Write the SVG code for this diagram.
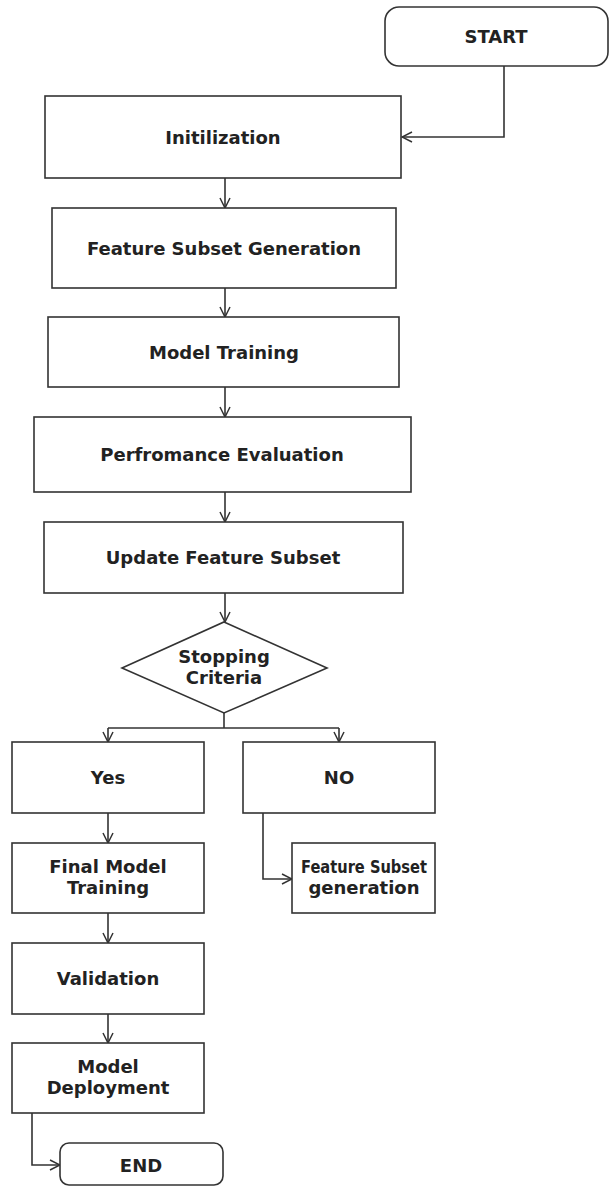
<svg xmlns="http://www.w3.org/2000/svg" width="610" height="1186" viewBox="0 0 610 1186">
<style>
.box{fill:#fff;stroke:#333;stroke-width:1.6}
.t{font-family:"DejaVu Sans","Open Sans",sans-serif;font-weight:bold;font-size:18px;fill:#222;text-anchor:middle;dominant-baseline:central}
.c{fill:none;stroke:#333;stroke-width:1.6}
</style>
<defs>
<marker id="ah" viewBox="0 0 12 12" refX="11" refY="6" markerWidth="12" markerHeight="12" markerUnits="userSpaceOnUse" orient="auto">
<path d="M1,1 L11,6 L1,11" fill="none" stroke="#333" stroke-width="1.5"/>
</marker>
</defs>
<rect width="610" height="1186" fill="#fff"/>
<g id="connectors">
<path class="c" d="M504,66 V137 H402" marker-end="url(#ah)"/>
<path class="c" d="M225,178 V208" marker-end="url(#ah)"/>
<path class="c" d="M225,288 V317" marker-end="url(#ah)"/>
<path class="c" d="M225,387 V417" marker-end="url(#ah)"/>
<path class="c" d="M225,492 V522" marker-end="url(#ah)"/>
<path class="c" d="M225,593 V622" marker-end="url(#ah)"/>
<path class="c" d="M224,713 V728"/>
<path class="c" d="M108,728 H339"/>
<path class="c" d="M108,728 V742" marker-end="url(#ah)"/>
<path class="c" d="M339,728 V742" marker-end="url(#ah)"/>
<path class="c" d="M108,813 V843" marker-end="url(#ah)"/>
<path class="c" d="M263,813 V879 H292" marker-end="url(#ah)"/>
<path class="c" d="M108,913 V943" marker-end="url(#ah)"/>
<path class="c" d="M108,1014 V1043" marker-end="url(#ah)"/>
<path class="c" d="M32,1113 V1165 H60" marker-end="url(#ah)"/>
</g>
<g id="start"><rect class="box" x="385" y="7" width="223" height="59" rx="14"/><text class="t" x="496" y="36">START</text></g>
<g id="init"><rect class="box" x="45" y="96" width="356" height="82"/><text class="t" x="223" y="137">Initilization</text></g>
<g id="fsg"><rect class="box" x="52" y="208" width="344" height="80"/><text class="t" x="224" y="248">Feature Subset Generation</text></g>
<g id="mt"><rect class="box" x="48" y="317" width="351" height="70"/><text class="t" x="224" y="352">Model Training</text></g>
<g id="pe"><rect class="box" x="34" y="417" width="377" height="75"/><text class="t" x="222" y="454">Perfromance Evaluation</text></g>
<g id="ufs"><rect class="box" x="44" y="522" width="359" height="71"/><text class="t" x="223" y="557">Update Feature Subset</text></g>
<g id="stop"><polygon class="box" points="224,622 327,668 224,713 122,668"/><text class="t" x="224" y="656">Stopping</text><text class="t" x="224" y="677">Criteria</text></g>
<g id="yes"><rect class="box" x="12" y="742" width="192" height="71"/><text class="t" x="108" y="777">Yes</text></g>
<g id="no"><rect class="box" x="243" y="742" width="192" height="71"/><text class="t" x="339" y="777">NO</text></g>
<g id="fmt"><rect class="box" x="12" y="843" width="192" height="70"/><text class="t" x="108" y="866">Final Model</text><text class="t" x="108" y="887">Training</text></g>
<g id="fsg2"><rect class="box" x="292" y="843" width="143" height="70"/><text class="t" x="364" y="866" textLength="126" lengthAdjust="spacingAndGlyphs">Feature Subset</text><text class="t" x="364" y="887">generation</text></g>
<g id="val"><rect class="box" x="12" y="943" width="192" height="71"/><text class="t" x="108" y="978">Validation</text></g>
<g id="md"><rect class="box" x="12" y="1043" width="192" height="70"/><text class="t" x="108" y="1066">Model</text><text class="t" x="108" y="1087">Deployment</text></g>
<g id="end"><rect class="box" x="60" y="1143" width="163" height="42" rx="9"/><text class="t" x="141" y="1165">END</text></g>
</svg>
